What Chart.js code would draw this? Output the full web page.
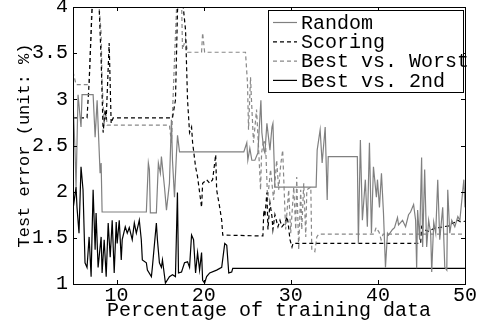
<!DOCTYPE html>
<html>
<head>
<meta charset="utf-8">
<script src="https://cdn.jsdelivr.net/npm/chart.js@4.4.0/dist/chart.umd.min.js"></script>
<style>
  html, body { margin: 0; padding: 0; background: #fff; }
</style>
</head>
<body>
<canvas id="myChart" width="484" height="324"></canvas>
<script>
// axis ticks
const xTicks = [10, 20, 30, 40, 50];
const yTicks = [1, 1.5, 2, 2.5, 3, 3.5, 4];
const seriesNames = ['Random', 'Scoring', 'Best vs. Worst', 'Best vs. 2nd'];

// [percentage of training data, test error %]
const randomPts = [[5.0,2.99],[5.23,2.45],[5.35,2.05],[5.58,3.05],[5.92,2.70],[6.04,3.05],[7.31,3.05],[7.54,2.59],[7.77,2.99],[8.11,2.20],[8.23,2.31],[8.34,1.78],
  [13.42,1.78],[13.65,2.31],[13.77,2.24],[13.88,1.77],[14.57,1.77],[14.8,2.31],[15.03,2.20],[15.15,2.38],[15.5,2.05],[15.73,1.80],[16.07,2.09],[16.3,2.78],[16.42,2.34],[16.65,1.94],[16.88,2.42],[17.0,2.61],[17.23,2.43],
  [24.61,2.43],[24.95,2.53],[25.07,2.34],[25.3,2.47],[25.53,2.34],[25.88,2.34],[26.22,2.42],[26.57,2.99],[26.68,2.64],[26.91,2.45],[27.03,2.42],[27.26,2.74],[27.61,2.45],[27.84,2.70],[27.95,2.74],[28.18,2.05],
  [32.91,2.05],[33.03,2.45],[33.37,2.67],[33.6,2.31],[33.95,2.70],[34.18,1.91],[34.3,2.38],
  [37.64,2.38],[37.76,1.44],[37.99,2.56],[38.22,1.69],[38.56,2.13],[38.79,1.62],[39.03,2.53],[39.26,1.55],[39.49,2.27],[39.83,1.94],
  [39.95,2.13],[40.18,1.83],[40.41,2.20],[40.64,1.77],[40.87,1.18],[41.1,1.55],[41.22,1.53],[41.68,1.59],[41.91,1.61],[42.25,1.72],
  [42.37,1.64],[42.83,1.69],[43.18,1.62],[43.52,1.75],[43.75,1.78],[44.1,1.86],[44.33,1.69],[44.45,1.17],[44.56,1.80],[44.79,1.48],
  [45.02,2.37],[45.14,1.40],[45.37,2.24],[45.6,1.40],[45.83,1.69],[46.06,1.55],[46.18,1.13],[46.41,1.67],[46.64,1.55],[46.87,2.13],
  [47.1,1.48],[47.44,1.83],[47.56,1.51],[47.68,1.18],[47.91,1.15],[48.02,2.02],[48.25,1.55],[48.48,1.69],[48.83,1.62],[49.18,1.73],
  [49.41,1.69],[49.75,2.02],[49.87,2.13],[50.0,1.83]];

const scoringPts = [[5.0,2.80],[6.61,2.80],[6.85,3.18],[7.19,3.97],[7.42,4.08],[7.77,4.08],[8.0,4.0],[8.23,3.43],[8.46,2.64],[8.69,2.89],[8.81,2.78],[9.15,3.61],[9.38,2.74],[9.61,2.80],
  [16.42,2.80],[16.76,2.99],[17.0,3.97],[17.23,4.08],[17.57,4.08],[17.92,3.75],[18.15,2.99],[18.38,2.64],[18.61,2.70],[18.73,2.53],[19.07,2.27],[19.3,2.16],[19.76,1.83],[19.88,2.09],
  [20.34,2.13],[20.69,2.09],[21.03,2.13],[21.38,2.40],[21.49,2.02],[21.84,1.83],[22.07,1.69],[22.19,1.53],
  [26.8,1.52],[26.91,1.80],[27.03,1.73],[27.26,1.99],[27.38,1.59],[27.61,1.88],[27.84,1.73],[27.95,1.59],[28.18,1.75],[28.53,1.62],[28.76,1.69],[28.99,1.62],[29.34,1.66],[29.57,1.73],[29.68,1.67],[29.91,1.48],[30.14,1.40],[30.26,1.44],
  [44.91,1.44],[45.02,1.62],[45.25,1.59],[45.83,1.57],[46.41,1.60],[46.98,1.61],[47.56,1.62],[48.14,1.63],[48.6,1.66],[48.94,1.67],[49.18,1.69],[49.52,1.67],[50.0,1.68]];

const worstPts = [[5.0,3.30],[5.35,3.16],[6.85,3.16],[7.19,4.08],[7.77,4.08],[8.0,4.0],[8.23,3.72],[8.34,3.18],[8.58,2.74],[8.81,2.83],[8.92,2.72],
  [16.07,2.72],[16.3,2.53],[16.65,3.43],[16.88,3.97],[17.0,4.08],[17.46,4.08],[17.57,3.54],[17.92,3.65],[18.15,3.51],[19.76,3.51],[19.88,3.72],[20.11,3.51],
  [24.8,3.51],[25.03,3.18],[25.15,2.67],[25.38,3.24],[25.49,2.99],[25.72,2.53],[26.07,2.89],[26.3,2.48],[26.53,2.02],[26.65,2.42],[26.88,2.56],[27.11,2.51],
  [27.34,1.91],[27.68,2.24],[28.03,1.91],[28.38,2.34],[28.61,2.02],[28.84,2.29],[29.07,2.45],[29.41,1.59],[29.76,2.02],[29.99,1.55],[30.34,2.05],[30.57,1.59],
  [30.68,2.16],[30.91,1.37],[31.14,2.02],[31.26,1.59],[31.49,2.09],[31.72,1.51],[31.84,2.02],[32.3,2.05],[32.41,1.37],[32.76,1.35],[32.99,1.51],[33.22,1.54],
  [39.56,1.54],[39.79,1.61],[40.14,1.56],[40.37,1.48],[40.6,1.54],[50.0,1.54]];

const secondPts = [[5.0,1.99],[5.12,1.89],[5.35,2.05],[5.46,1.83],[5.69,1.55],[5.92,2.27],[6.15,2.02],[6.38,1.23],[6.61,1.18],[6.85,1.51],[7.08,1.08],[7.19,1.55],[7.31,2.02],
  [7.54,1.37],[7.65,1.77],[7.88,1.18],[8.23,1.51],[8.34,1.12],[8.58,1.48],[8.81,1.08],[9.04,1.66],[9.27,1.29],[9.5,1.69],[9.73,1.12],[9.96,1.67],[10.07,1.44],
  [10.31,1.69],[10.54,1.26],[10.65,1.48],[11.0,1.62],[11.23,1.55],[11.46,1.61],[11.8,1.48],[12.04,1.66],[12.27,1.55],[12.61,1.69],[12.84,1.48],[12.96,1.26],
  [13.42,1.23],[13.54,1.15],[14.0,1.08],[14.11,1.18],[14.57,1.66],[14.69,1.48],[14.92,1.23],[15.15,1.18],[15.27,1.26],[15.61,1.01],[16.07,1.08],[16.42,1.10],
  [16.76,1.08],[16.99,1.99],[17.11,1.12],[17.46,1.13],[17.8,1.23],[18.15,1.24],[18.38,1.18],[18.61,1.53],[18.84,1.48],[19.07,1.12],[19.3,1.34],[19.53,1.15],
  [19.76,1.34],[19.88,1.04],[20.11,1.01],[20.34,1.08],[20.69,1.12],[21.49,1.15],[22.07,1.18],[22.42,1.44],[22.65,1.42],[22.88,1.12],[23.22,1.13],[23.34,1.17],
  [50.0,1.17]];

const mono = '"Liberation Mono", "Courier New", monospace';
const toXY = pts => pts.map(p => ({ x: p[0], y: p[1] }));

// box round the axes, inward ticks, framed legend
const frame = {
  id: 'frame',
  afterDraw(chart) {
    const ctx = chart.ctx, a = chart.chartArea;
    const xs = chart.scales.x, ys = chart.scales.y;
    const seg = (x1, y1, x2, y2) => { ctx.beginPath(); ctx.moveTo(x1, y1); ctx.lineTo(x2, y2); ctx.stroke(); };
    ctx.save();
    ctx.strokeStyle = '#000';
    ctx.lineWidth = 1;
    ctx.setLineDash([]);
    ctx.strokeRect(Math.round(a.left) + 0.5, Math.round(a.top) + 0.5, Math.round(a.right - a.left), Math.round(a.bottom - a.top));
    xTicks.forEach(v => {
      const px = Math.round(xs.getPixelForValue(v)) + 0.5;
      seg(px, a.bottom, px, a.bottom - 4);
      seg(px, a.top, px, a.top + 4);
    });
    yTicks.forEach(v => {
      const py = Math.round(ys.getPixelForValue(v)) + 0.5;
      seg(a.left, py, a.left + 4, py);
      seg(a.right, py, a.right - 4, py);
    });

    // legend
    const bx = 268.5, by = 10.5, bw = 195, bh = 82;
    ctx.fillStyle = '#fff';
    ctx.fillRect(bx, by, bw, bh);
    ctx.strokeRect(bx, by, bw, bh);
    ctx.font = '20px ' + mono;
    ctx.textBaseline = 'middle';
    ctx.textAlign = 'left';
    chart.data.datasets.forEach((ds, i) => {
      const yy = 22.5 + i * 19.3;
      ctx.strokeStyle = ds.borderColor;
      ctx.lineWidth = ds.borderWidth;
      ctx.setLineDash(ds.borderDash || []);
      seg(273, yy, 297, yy);
      ctx.setLineDash([]);
      ctx.fillStyle = '#000';
      ctx.fillText(ds.label, 301, yy + 1);
    });
    ctx.restore();
  }
};

new Chart(document.getElementById('myChart'), {
  type: 'line',
  data: {
    datasets: [
      { label: seriesNames[0], data: toXY(randomPts), borderColor: '#808080', borderWidth: 1.2, borderDash: [] },
      { label: seriesNames[1], data: toXY(scoringPts), borderColor: '#000', borderWidth: 1.2, borderDash: [4, 3] },
      { label: seriesNames[2], data: toXY(worstPts), borderColor: '#888', borderWidth: 1.2, borderDash: [4, 3] },
      { label: seriesNames[3], data: toXY(secondPts), borderColor: '#000', borderWidth: 1.2, borderDash: [] }
    ]
  },
  options: {
    responsive: false,
    animation: false,
    layout: { padding: { top: 7, right: 19, left: 0, bottom: 0 } },
    elements: { point: { radius: 0 }, line: { tension: 0 } },
    scales: {
      x: {
        type: 'linear',
        min: 5,
        max: 50,
        grid: { display: false, drawTicks: false },
        border: { display: false },
        afterBuildTicks: s => { s.ticks = xTicks.map(v => ({ value: v })); },
        afterFit: s => { s.height = 40; s.paddingLeft = 0; s.paddingRight = 0; },
        ticks: { color: '#000', padding: 0, autoSkip: false, maxRotation: 0, callback: v => String(v), font: { family: mono, size: 20 } },
        title: { display: true, text: 'Percentage of training data', color: '#000', padding: { top: 0, bottom: 1 }, font: { family: mono, size: 20 } }
      },
      y: {
        min: 1,
        max: 4,
        grid: { display: false, drawTicks: false },
        border: { display: false },
        afterBuildTicks: s => { s.ticks = yTicks.map(v => ({ value: v })); },
        afterFit: s => { s.width = 73; s.paddingTop = 0; s.paddingBottom = 0; },
        ticks: { color: '#000', padding: 5, autoSkip: false, callback: v => String(v), font: { family: mono, size: 20 } },
        title: { display: true, text: 'Test error (unit: %)', color: '#000', padding: { top: 14, bottom: 0 }, font: { family: mono, size: 17 } }
      }
    },
    plugins: {
      legend: { display: false },
      tooltip: { enabled: false }
    }
  },
  plugins: [frame]
});
</script>
</body>
</html>
